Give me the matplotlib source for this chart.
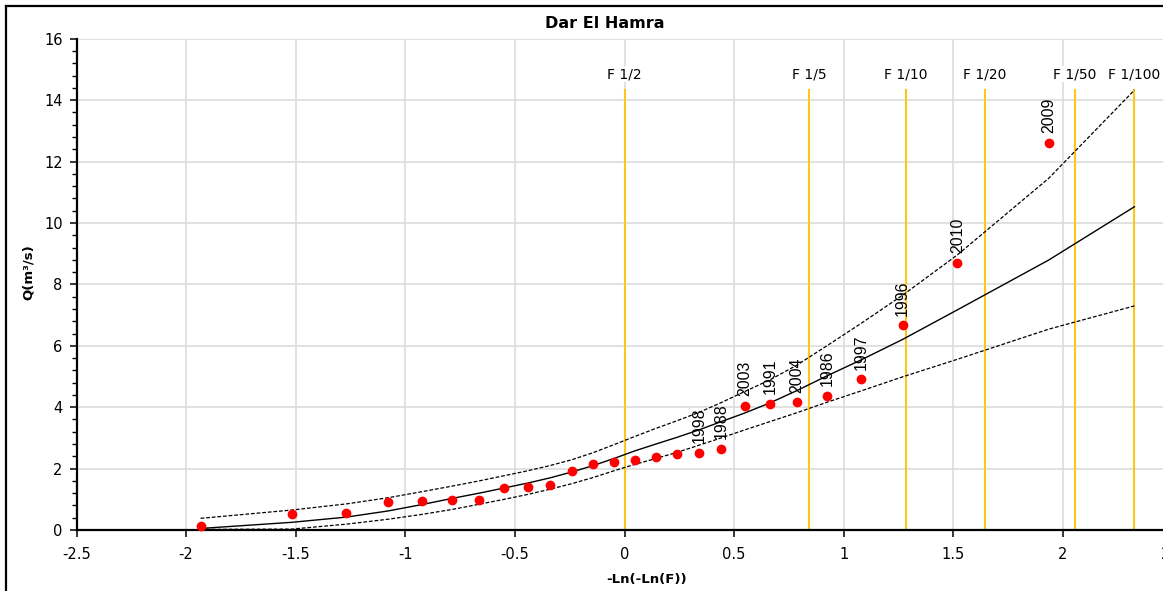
import matplotlib
matplotlib.use("Agg")
import matplotlib.pyplot as plt
from matplotlib.lines import Line2D
from matplotlib.ticker import MultipleLocator, FixedLocator, FixedFormatter

# ---------------- data ----------------
z_obs = [-1.934, -1.518, -1.269, -1.079, -0.923, -0.786, -0.663, -0.548, -0.441,
         -0.339, -0.240, -0.143, -0.048, 0.048, 0.143, 0.240, 0.339, 0.441,
         0.548, 0.663, 0.786, 0.923, 1.079, 1.269, 1.518, 1.934]
q_obs = [0.14, 0.52, 0.54, 0.90, 0.95, 0.97, 0.98, 1.38, 1.41, 1.47, 1.93, 2.16,
         2.23, 2.29, 2.37, 2.48, 2.51, 2.65, 4.05, 4.10, 4.16, 4.38, 4.91, 6.67,
         8.71, 12.60]
year_labels = [""] * 16 + ["1998", "1988", "2003", "1991", "2004", "1986",
                           "1997", "1996", "2010", "2009"]

z_curve = [-1.934, -1.518, -1.269, -1.079, -0.923, -0.786, -0.663, -0.548, -0.441,
           -0.339, -0.240, -0.143, -0.048, 0.048, 0.143, 0.240, 0.339, 0.441,
           0.548, 0.663, 0.786, 0.923, 1.079, 1.269, 1.518, 1.934, 2.326]
q_fit = [0.05, 0.25, 0.42, 0.62, 0.83, 1.03, 1.20, 1.37, 1.53, 1.70, 1.89, 2.10,
         2.33, 2.58, 2.80, 3.02, 3.26, 3.53, 3.81, 4.14, 4.54, 5.02, 5.54, 6.21,
         7.17, 8.79, 10.53]
q_upper = [0.38, 0.65, 0.85, 1.05, 1.25, 1.43, 1.60, 1.77, 1.93, 2.10, 2.29, 2.52,
           2.78, 3.05, 3.31, 3.56, 3.83, 4.15, 4.51, 4.89, 5.37, 6.00, 6.73, 7.65,
           8.96, 11.45, 14.33]
q_lower = [0.02, 0.03, 0.19, 0.35, 0.51, 0.67, 0.84, 1.00, 1.16, 1.33, 1.51, 1.71,
           1.93, 2.14, 2.33, 2.53, 2.76, 3.00, 3.26, 3.53, 3.82, 4.16, 4.53, 4.99,
           5.56, 6.54, 7.30]

freq_x = [0.0, 0.842, 1.282, 1.645, 2.054, 2.326]
freq_labels = ["F 1/2", "F 1/5", "F 1/10", "F 1/20", "F 1/50", "F 1/100"]
freq_top = 14.33

x_ticks = [-2.5, -2.0, -1.5, -1.0, -0.5, 0.0, 0.5, 1.0, 1.5, 2.0, 2.5]
x_tick_labels = ["-2.5", "-2", "-1.5", "-1", "-0.5", "0", "0.5", "1", "1.5", "2", "2.5"]
y_ticks = [0, 2, 4, 6, 8, 10, 12, 14, 16]
y_tick_labels = ["0", "2", "4", "6", "8", "10", "12", "14", "16"]

title = "Dar El Hamra"
x_label = "-Ln(-Ln(F))"
y_label = "Q(m³/s)"

# ---------------- figure ----------------
W, H = 1163, 591
fig = plt.figure(figsize=(W / 100, H / 100), dpi=100)
fig.patch.set_facecolor("white")

left_px, right_px, top_px, bottom_px = 76.5, 1172.6, 38.8, 530.0
ax = fig.add_axes([left_px / W, 1 - bottom_px / H,
                   (right_px - left_px) / W, (bottom_px - top_px) / H])
ax.set_xlim(-2.5, 2.5)
ax.set_ylim(0, 16)

grid_c = "#DCDCDC"
ax.set_axisbelow(True)
ax.xaxis.set_major_locator(FixedLocator(x_ticks))
ax.xaxis.set_major_formatter(FixedFormatter(x_tick_labels))
ax.yaxis.set_major_locator(FixedLocator(y_ticks))
ax.yaxis.set_major_formatter(FixedFormatter(y_tick_labels))
ax.yaxis.set_minor_locator(MultipleLocator(0.4))
ax.grid(True, which="major", color=grid_c, lw=1.2)

for s in ["top", "right"]:
    ax.spines[s].set_visible(False)
for s in ["left", "bottom"]:
    ax.spines[s].set_color("black")
    ax.spines[s].set_linewidth(1.6)

ax.tick_params(axis="x", which="major", direction="out", length=5, width=1.1,
               labelsize=10.5, pad=7, colors="black")
ax.tick_params(axis="y", which="major", direction="out", length=5, width=1.1,
               labelsize=10.5, pad=5, colors="black")
ax.tick_params(axis="y", which="minor", direction="out", length=3.5, width=1.0)
ax.tick_params(axis="x", which="minor", length=0)

# frequency lines
orange = "#FFC51A"
for fx, fl in zip(freq_x, freq_labels):
    ax.plot([fx, fx], [0, freq_top], color=orange, lw=1.5, zorder=2)
    ax.text(fx, 14.85, fl, ha="center", va="center", fontsize=10, color="black",
            bbox=dict(facecolor="white", edgecolor="none", pad=1.0), zorder=3)

# fitted curve and confidence band
ax.plot(z_curve, q_fit, color="black", lw=1.0, zorder=4)
ax.plot(z_curve, q_upper, color="black", lw=0.9, ls=(0, (3, 1.5)), zorder=4)
ax.plot(z_curve, q_lower, color="black", lw=0.9, ls=(0, (3, 1.5)), zorder=4)

# observations
ax.plot(z_obs, q_obs, "o", color="#FF0000", ms=6, mec="#FF0000", zorder=5,
        clip_on=False)
for zx, qy, yl in zip(z_obs, q_obs, year_labels):
    if yl:
        ax.annotate(yl, (zx, qy), xytext=(0, 7), textcoords="offset points",
                    rotation=90, ha="center", va="bottom", fontsize=11.5,
                    family="Liberation Sans", zorder=6)

# titles / labels (figure coordinates)
fig.text(605 / W, 1 - 24 / H, title, ha="center", va="center",
         fontsize=11.5, fontweight="bold")
fig.text(647 / W, 1 - 579 / H, x_label, ha="center", va="center",
         fontsize=9.5, fontweight="bold")
fig.text(28 / W, 1 - 272 / H, y_label, ha="center", va="center",
         fontsize=9.5, fontweight="bold", rotation=90)

# outer chart border (cropped at right/bottom in the reference)
fig.add_artist(Line2D([6 / W, 6 / W], [0, 1 - 6 / H], transform=fig.transFigure,
                      color="black", lw=1.6))
fig.add_artist(Line2D([6 / W, 1], [1 - 6 / H, 1 - 6 / H], transform=fig.transFigure,
                      color="black", lw=1.6))

fig.savefig("out.png", dpi=100)
